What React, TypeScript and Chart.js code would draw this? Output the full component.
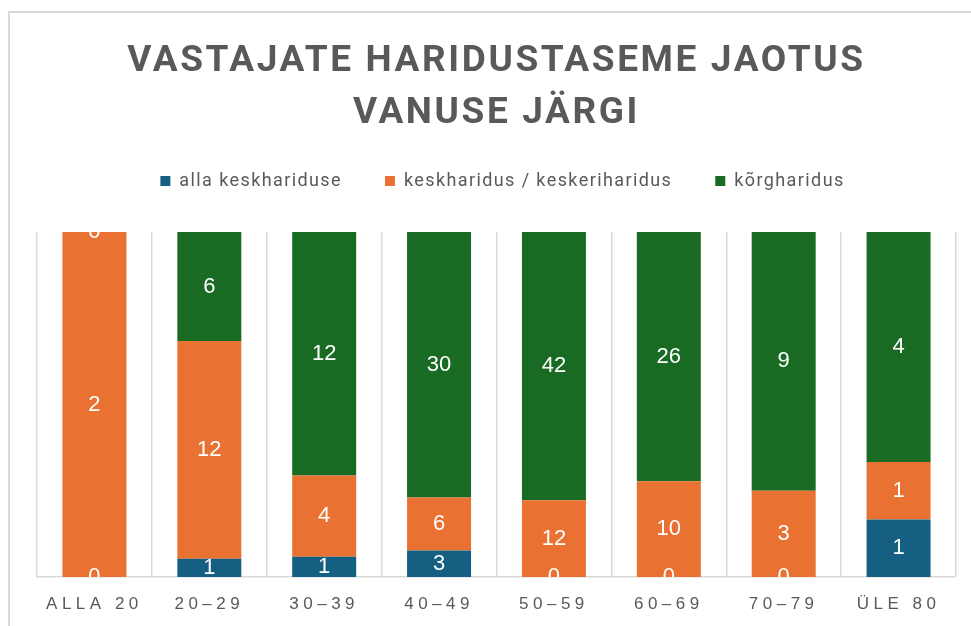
import { useEffect, useRef } from "react";
import { Chart, registerables } from "chart.js";

Chart.register(...registerables);

const categories = ["ALLA 20", "20–29", "30–39", "40–49", "50–59", "60–69", "70–79", "ÜLE 80"];
const seriesNames = ["alla keskhariduse", "keskharidus / keskeriharidus", "kõrgharidus"];
const allaKeskhariduse = [0, 1, 1, 3, 0, 0, 0, 1];
const keskharidus = [2, 12, 4, 6, 12, 10, 3, 1];
const korgharidus = [0, 6, 12, 30, 42, 26, 9, 4];
const seriesColors = ["#156082", "#E97132", "#196B24"];

const titleLines = ["VASTAJATE HARIDUSTASEME JAOTUS", "VANUSE JÄRGI"];

const W = 963;
const H = 615;
const TEXT_GREY = "#595959";
const GRID_GREY = "#d9d9d9";
const LEGEND_LS = "1.4px";
const TICK_LS = "4.5px";
const LEGEND_EXTRA = 32;
const LEGEND_SHIFT = 6;

export default function App() {
  const canvasRef = useRef<HTMLCanvasElement | null>(null);

  useEffect(() => {
    const canvas = canvasRef.current;
    if (!canvas) return;
    const raw = [allaKeskhariduse, keskharidus, korgharidus];
    const totals = categories.map((_, j) => raw.reduce((s, arr) => s + arr[j], 0));
    const pct = raw.map((arr) => arr.map((v, j) => (totals[j] ? (v / totals[j]) * 100 : 0)));

    const customPlugin = {
      id: "customLabels",
      beforeLayout(chart: any) {
        const legend = chart.legend;
        if (legend && !legend.__patched) {
          const origFit = legend.fit;
          legend.fit = function () {
            origFit.call(this);
            this.height += LEGEND_EXTRA;
          };
          const origDraw = legend.draw;
          legend.draw = function () {
            const c = this.ctx;
            c.save();
            c.translate(LEGEND_SHIFT, 0);
            origDraw.call(this);
            c.restore();
          };
          legend.__patched = true;
        }
        chart.ctx.letterSpacing = LEGEND_LS;
      },
      afterLayout(chart: any) {
        chart.ctx.letterSpacing = "0px";
      },
      beforeDraw(chart: any) {
        chart.ctx.letterSpacing = LEGEND_LS;
      },
      afterDatasetsDraw(chart: any) {
        const ctx = chart.ctx as CanvasRenderingContext2D;
        const area = chart.chartArea;
        ctx.save();
        (ctx as any).letterSpacing = "0px";
        ctx.beginPath();
        ctx.rect(area.left, area.top, area.right - area.left, area.bottom - area.top);
        ctx.clip();
        ctx.font = "22px 'Liberation Sans', Arial, sans-serif";
        ctx.fillStyle = "#ffffff";
        ctx.textAlign = "center";
        ctx.textBaseline = "middle";
        raw.forEach((arr, i) => {
          const meta = chart.getDatasetMeta(i);
          meta.data.forEach((el: any, j: number) => {
            const p = el.getProps(["x", "y", "base"], true);
            ctx.fillText(String(arr[j]), p.x, (p.y + p.base) / 2);
          });
        });
        ctx.restore();
        (ctx as any).letterSpacing = TICK_LS;
      },
      afterDraw(chart: any) {
        chart.ctx.letterSpacing = "0px";
      },
    };

    const chart = new Chart(canvas, {
      type: "bar",
      data: {
        labels: categories,
        datasets: seriesNames.map((name, i) => ({
          label: name,
          data: pct[i],
          backgroundColor: seriesColors[i],
          borderWidth: 0,
          barPercentage: 0.557,
          categoryPercentage: 1,
        })),
      },
      options: {
        responsive: false,
        animation: false,
        devicePixelRatio: 1,
        layout: { padding: { left: 29, right: 15, top: 118, bottom: 13 } },
        plugins: {
          title: { display: false },
          tooltip: { enabled: false },
          legend: {
            display: true,
            position: "top",
            labels: {
              boxWidth: 10,
              boxHeight: 10,
              padding: 43,
              color: TEXT_GREY,
              font: { family: "Roboto, 'Liberation Sans', sans-serif", size: 18 },
            },
          },
        },
        scales: {
          x: {
            stacked: true,
            grid: { display: true, offset: true, color: GRID_GREY, lineWidth: 1.5, drawTicks: false },
            border: { display: true, color: GRID_GREY, width: 1.5 },
            afterFit(scale: any) {
              scale.height = 36;
            },
            ticks: {
              z: 1,
              padding: 17,
              color: TEXT_GREY,
              autoSkip: false,
              maxRotation: 0,
              minRotation: 0,
              font: { family: "'Liberation Sans', Arial, sans-serif", size: 17 },
            },
          },
          y: {
            stacked: true,
            display: false,
            min: 0,
            max: 100,
          },
        },
      },
      plugins: [customPlugin],
    });
    return () => chart.destroy();
  }, []);

  return (
    <div style={{ position: "absolute", left: 8, top: 11, width: W, height: H }}>
      <div
        style={{
          position: "absolute",
          left: 0,
          top: 0,
          width: W,
          height: H,
          borderLeft: `2px solid ${GRID_GREY}`,
          borderTop: `2px solid ${GRID_GREY}`,
          boxSizing: "border-box",
        }}
      />
      <canvas ref={canvasRef} width={W} height={H} style={{ position: "absolute", left: 0, top: 0, width: W, height: H }} />
      <div
        style={{
          position: "absolute",
          left: 0,
          top: 22,
          width: W,
          paddingLeft: 14,
          boxSizing: "border-box",
          textAlign: "center",
          fontFamily: "Roboto, 'Liberation Sans', sans-serif",
          fontWeight: 700,
          fontSize: 37,
          letterSpacing: "2.6px",
          lineHeight: "52px",
          color: TEXT_GREY,
        }}
      >
        {titleLines[0]}
        <br />
        {titleLines[1]}
      </div>
    </div>
  );
}
